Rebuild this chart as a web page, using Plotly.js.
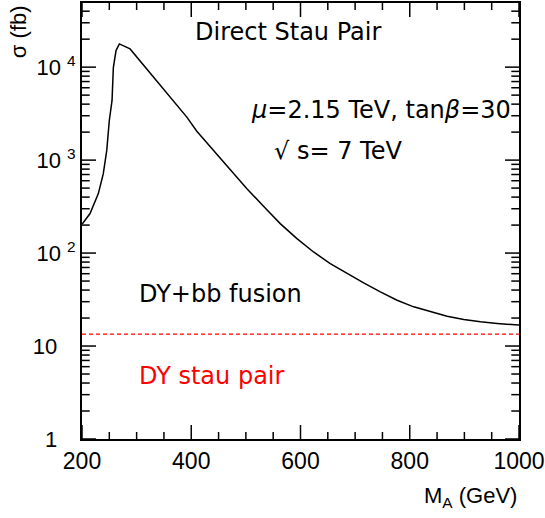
<!DOCTYPE html>
<html>
<head>
<meta charset="utf-8">
<script src="https://cdn.plot.ly/plotly-3.0.1.min.js"></script>
<style>html,body{margin:0;padding:0;background:#fff;}#chart{width:545px;height:518px;}</style>
</head>
<body>
<div id="chart"></div>
<script>
// Data
const massA = [200,214.7,229.9,239,245.3,247.7,250,255,257.4,262.3,268.4,288,318.6,350,391.9,410.2,440.6,471.3,501.9,532.3,562.9,593.5,623.9,654.5,685.1,715.6,746.2,776.8,807.2,837.8,868.4,898.9,929.5,960,1000];
const sigmaTotal = [204,266,436,714,1271,1936,2670,4380,9900,15070,17800,15700,9600,5780,2900,2048,1271,789,493,318,207.5,143,102.8,77,60.2,47.7,38.2,31.1,26.4,23.3,20.9,19.3,18.2,17.5,16.8];
const dyMass = [200,1000];
const dySigma = [13.4,13.4];
const xTickVals = [200,400,600,800,1000];
const xTickText = ['200','400','600','800','1000'];
const xMinorVals = [250,300,350,450,500,550,650,700,750,850,900,950];
const yTickVals = [1,10,100,1000,10000];
const yTickText = ['1\u00a0\u00a0\u00a0','10\u00a0\u00a0\u00a0','10 <sup>2</sup>','10 <sup>3</sup>','10 <sup>4</sup>'];
const yMinorVals = [2,3,4,5,6,7,8,9,20,30,40,50,60,70,80,90,200,300,400,500,600,700,800,900,2000,3000,4000,5000,6000,7000,8000,9000,20000,30000,40000];

const xRange = [200,1000];
const yRange = [0,4.69];

const traces = [
  {x: massA, y: sigmaTotal, type:'scatter', mode:'lines', line:{color:'black', width:1.5, shape:'linear'}, hoverinfo:'skip'},
  {x: dyMass, y: dySigma, type:'scatter', mode:'lines', line:{color:'#ff0000', width:1.2, dash:'4px,3px'}, hoverinfo:'skip'}
];

// inward tick marks: line markers centred on the frame, clipped to the plot area
const yBottom = Math.pow(10, yRange[0]);
const yTop = Math.pow(10, yRange[1]);
function xTickTrace(vals, size){
  return {x: vals.concat(vals), y: vals.map(() => yBottom).concat(vals.map(() => yTop)),
    type:'scatter', mode:'markers', cliponaxis:true, hoverinfo:'skip',
    marker:{symbol:'line-ns', size:size, color:'black', line:{color:'black', width:1.5}}};
}
function yTickTrace(vals, size){
  return {y: vals.concat(vals), x: vals.map(() => xRange[0]).concat(vals.map(() => xRange[1])),
    type:'scatter', mode:'markers', cliponaxis:true, hoverinfo:'skip',
    marker:{symbol:'line-ew', size:size, color:'black', line:{color:'black', width:1.5}}};
}
traces.push(xTickTrace(xTickVals, 20), xTickTrace(xMinorVals, 10), yTickTrace(yTickVals, 20), yTickTrace(yMinorVals, 11));

const tf = {family:'DejaVu Sans', size:24, color:'black'};
const layout = {
  width:545, height:518,
  margin:{l:82, r:26, t:3, b:79},
  paper_bgcolor:'white', plot_bgcolor:'white',
  showlegend:false,
  xaxis:{
    range:xRange, tickmode:'array', tickvals:xTickVals, ticktext:xTickText,
    ticks:'', showline:true, linewidth:2, linecolor:'black', mirror:true,
    showgrid:false, zeroline:false,
    tickfont:{family:'Liberation Sans', size:23, color:'black'}
  },
  yaxis:{
    type:'log', range:yRange, tickmode:'array', tickvals:yTickVals, ticktext:yTickText,
    ticks:'', showline:true, linewidth:2, linecolor:'black', mirror:true,
    showgrid:false, zeroline:false,
    tickfont:{family:'Liberation Sans', size:22, color:'black'}
  },
  annotations:[
    {xref:'paper', yref:'paper', x:0.471, y:0.934, text:'Direct Stau Pair', showarrow:false, font:tf, xanchor:'center', yanchor:'middle'},
    {xref:'paper', yref:'paper', x:0.986, y:0.755, text:'<i>μ</i>=2.15 TeV, tan<i>β</i>=30', showarrow:false, font:tf, xanchor:'right', yanchor:'middle'},
    {xref:'paper', yref:'paper', x:0.435, y:0.66, text:'√ s= 7 TeV', showarrow:false, font:tf, xanchor:'left', yanchor:'middle'},
    {xref:'paper', yref:'paper', x:0.126, y:0.332, text:'DY+bb fusion', showarrow:false, font:tf, xanchor:'left', yanchor:'middle'},
    {xref:'paper', yref:'paper', x:0.126, y:0.144, text:'DY stau pair', showarrow:false, font:{family:'DejaVu Sans', size:24, color:'#ff0000'}, xanchor:'left', yanchor:'middle'},
    {xref:'paper', yref:'paper', x:-0.145, y:1.0, text:'σ (fb)', textangle:-90, showarrow:false, font:{family:'Liberation Sans', size:22, color:'black'}, xanchor:'center', yanchor:'top'},
    {xref:'paper', yref:'paper', x:1.0, y:-0.133, text:'M<sub>A</sub> (GeV)', showarrow:false, font:{family:'Liberation Sans', size:22, color:'black'}, xanchor:'right', yanchor:'middle'}
  ]
};
Plotly.newPlot('chart', traces, layout, {staticPlot:true, displayModeBar:false});
</script>
</body>
</html>
